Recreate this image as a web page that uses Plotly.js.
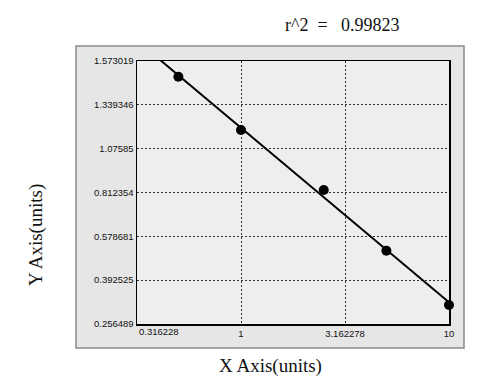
<!DOCTYPE html>
<html>
<head>
<meta charset="utf-8">
<script src="https://cdn.plot.ly/plotly-3.0.1.min.js"></script>
<style>html,body{margin:0;padding:0;background:#fff;}#chart{width:495px;height:390px;}</style>
</head>
<body>
<div id="chart"></div>
<script>
// ---- data ----
const xTickVals = [0.316228, 1, 3.162278, 10];
const xTickText = ['0.316228', '1', '3.162278', '10'];
const yTickText = ['0.256489', '0.392525', '0.578681', '0.812354', '1.07585', '1.339346', '1.573019'];
const xData = [0.5, 1, 2.5, 5, 10];
const yData = [1.494, 1.228, 0.927, 0.623, 0.352];
const rSquared = '0.99823';
const xTitle = 'X Axis(units)';
const yTitle = 'Y Axis(units)';

// ---- derived ----
const yMin = parseFloat(yTickText[0]);
const yMax = parseFloat(yTickText[yTickText.length - 1]);
const yTickVals = yTickText.map((_, i) => yMin + (yMax - yMin) * i / (yTickText.length - 1));

// least squares fit y = a + b*log10(x)
const lx = xData.map(v => Math.log10(v));
const n = lx.length;
const mx = lx.reduce((s, v) => s + v, 0) / n;
const my = yData.reduce((s, v) => s + v, 0) / n;
let sxy = 0, sxx = 0;
for (let i = 0; i < n; i++) { sxy += (lx[i] - mx) * (yData[i] - my); sxx += (lx[i] - mx) ** 2; }
const b = sxy / sxx, a = my - b * mx;
const fitX = [xTickVals[0], xTickVals[xTickVals.length - 1]];
const fitY = fitX.map(v => a + b * Math.log10(v));

const W = 495, H = 390;
const m = {l: 137, r: 46, t: 61, b: 66};
const pw = W - m.l - m.r, ph = H - m.t - m.b;
const px = x => (x - m.l) / pw;
const py = y => (H - m.b - y) / ph;

const traces = [
  {x: fitX, y: fitY, mode: 'lines', line: {color: '#000', width: 2}, hoverinfo: 'skip', showlegend: false},
  {x: xData, y: yData, mode: 'markers', marker: {color: '#000', size: 10}, cliponaxis: false, showlegend: false}
];

const serif = 'Liberation Serif, Times New Roman, serif';
const sans = 'Liberation Sans, Arial, sans-serif';
const nb = k => '\u00a0'.repeat(k);

const layout = {
  width: W, height: H,
  margin: m,
  paper_bgcolor: '#ffffff',
  plot_bgcolor: 'rgba(0,0,0,0)',
  showlegend: false,
  xaxis: {
    type: 'log',
    range: [Math.log10(xTickVals[0]), Math.log10(xTickVals[xTickVals.length - 1])],
    tickmode: 'array', tickvals: xTickVals,
    ticktext: xTickText.map((t, i) => i === 0 ? '' : t),
    ticks: '', showgrid: true, gridcolor: '#333', gridwidth: 1, griddash: '2px,2px',
    showline: true, mirror: true, linecolor: '#000', linewidth: 1.5,
    zeroline: false, tickfont: {family: sans, size: 9.5, color: '#111'}
  },
  yaxis: {
    range: [yMin, yMax],
    tickmode: 'array', tickvals: yTickVals, ticktext: yTickText,
    ticks: '', showgrid: true, gridcolor: '#333', gridwidth: 1, griddash: '2px,2px',
    showline: true, mirror: true, linecolor: '#000', linewidth: 1.5,
    zeroline: false, tickfont: {family: sans, size: 9.5, color: '#111'}
  },
  shapes: [
    {type: 'rect', xref: 'paper', yref: 'paper', layer: 'below',
     x0: px(76), x1: px(464), y0: py(348), y1: py(46),
     fillcolor: '#e6e6e6', line: {color: '#8a8a8a', width: 1.5}},
    {type: 'rect', xref: 'paper', yref: 'paper', layer: 'below',
     x0: 0, x1: 1, y0: 0, y1: 1, fillcolor: '#eeeeee', line: {width: 0}}
  ],
  annotations: [
    {text: 'r^2' + nb(2) + '=' + nb(3) + rSquared, xref: 'paper', yref: 'paper',
     x: px(342), y: py(25), xanchor: 'center', yanchor: 'middle', showarrow: false,
     font: {family: serif, size: 18, color: '#111'}},
    {text: xTitle, xref: 'paper', yref: 'paper', x: px(270), y: py(366),
     xanchor: 'center', yanchor: 'middle', showarrow: false,
     font: {family: serif, size: 19, color: '#111'}},
    {text: yTitle, xref: 'paper', yref: 'paper', x: px(36), y: py(235), textangle: -90,
     xanchor: 'center', yanchor: 'middle', showarrow: false,
     font: {family: serif, size: 19, color: '#111'}},
    {text: xTickText[0], xref: 'x', yref: 'paper', x: Math.log10(xTickVals[0]), y: 0,
     xanchor: 'left', yanchor: 'top', yshift: 0, showarrow: false,
     font: {family: sans, size: 9.5, color: '#111'}}
  ]
};

Plotly.newPlot('chart', traces, layout, {staticPlot: true, displayModeBar: false});
</script>
</body>
</html>
